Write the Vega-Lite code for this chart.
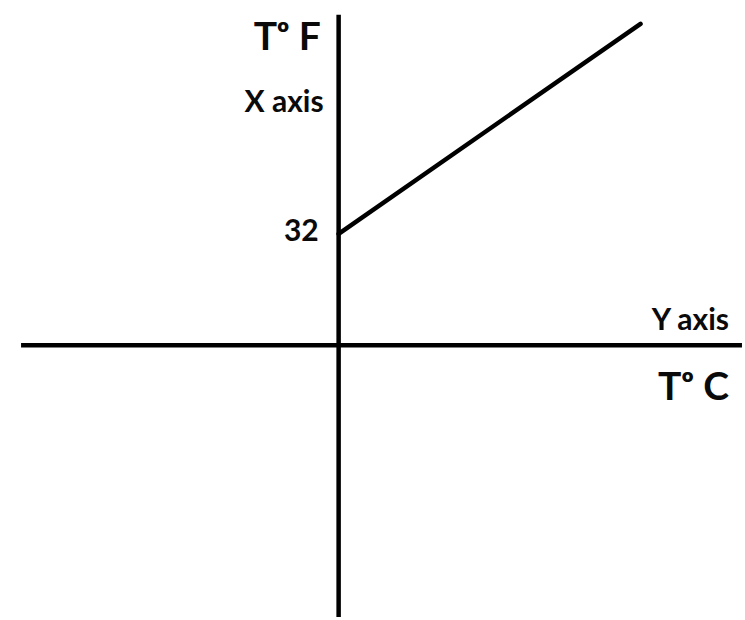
{
  "$schema": "https://vega.github.io/schema/vega-lite/v6.json",
  "width": 745,
  "height": 620,
  "autosize": {"type": "fit", "contains": "padding"},
  "padding": 0,
  "background": "white",
  "config": {"view": {"stroke": null}},
  "datasets": {
    "axes": [
      {"name": "C axis", "x1": -91.1, "x2": 115.7, "y1": 0, "y2": 0},
      {"name": "F axis", "x1": 0, "x2": 0, "y1": 94.9, "y2": -78}
    ],
    "line": [
      {"C": 0, "F": 32},
      {"C": 86.6, "F": 92.3}
    ],
    "labels": [
      {"text": "Tᵒ F", "C": -5.1, "F": 84.9, "big": true},
      {"text": "X axis", "C": -4.3, "F": 67.0, "big": false},
      {"text": "32", "C": -5.7, "F": 30.0, "big": false},
      {"text": "Y axis", "C": 112, "F": 4.3, "big": false},
      {"text": "Tᵒ C", "C": 112, "F": -15.7, "big": true}
    ]
  },
  "layer": [
    {
      "data": {"name": "axes"},
      "mark": {"type": "rule", "stroke": "black", "strokeWidth": 4.5},
      "encoding": {
        "x": {"field": "x1", "type": "quantitative", "scale": {"domain": [-97.14, 115.71], "nice": false, "zero": false}, "axis": null},
        "x2": {"field": "x2"},
        "y": {"field": "y1", "type": "quantitative", "scale": {"domain": [-78, 99.14], "nice": false, "zero": false}, "axis": null},
        "y2": {"field": "y2"}
      }
    },
    {
      "data": {"name": "line"},
      "mark": {"type": "line", "stroke": "black", "strokeWidth": 4.5, "strokeCap": "round"},
      "encoding": {
        "x": {"field": "C", "type": "quantitative"},
        "y": {"field": "F", "type": "quantitative"}
      }
    },
    {
      "data": {"name": "labels"},
      "mark": {"type": "text", "align": "right", "baseline": "alphabetic", "font": "Lato", "fontWeight": "bold", "color": "#0a0a0a"},
      "encoding": {
        "x": {"field": "C", "type": "quantitative"},
        "y": {"field": "F", "type": "quantitative"},
        "text": {"field": "text"},
        "size": {"field": "big", "type": "nominal", "scale": {"domain": [true, false], "range": [39, 30]}, "legend": null}
      }
    }
  ]
}
